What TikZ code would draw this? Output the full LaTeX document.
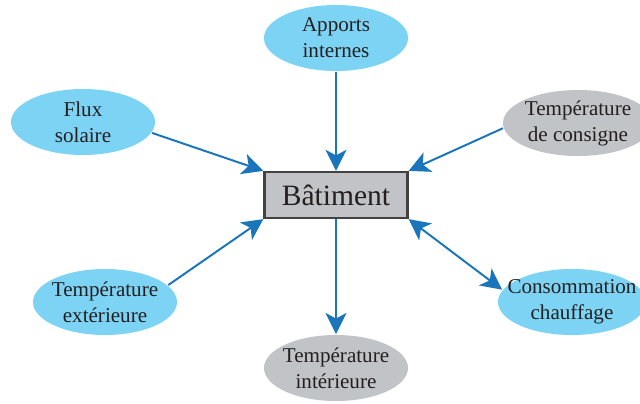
\documentclass[tikz,border=0pt]{standalone}
\usepackage{fontspec}
\setmainfont{Liberation Serif}
\usepackage{tikz}
\usetikzlibrary{arrows.meta,shapes.geometric}

\definecolor{cielbleu}{HTML}{7DD3F4}
\definecolor{grisclair}{HTML}{C2C3C7}
\definecolor{flechebleu}{HTML}{1B75BB}
\definecolor{texte}{HTML}{231F20}

\begin{document}
\begin{tikzpicture}[->,>={Stealth[length=15pt,width=15pt,inset=4pt]},x=0.025cm,y=-0.025cm,
                    line width=1.4pt,draw=flechebleu,text=texte]
  \tikzstyle{bulle}=[ellipse,draw=none,minimum width=3.6cm,minimum height=1.65cm,
                     inner xsep=-12pt,inner ysep=-2pt,align=center,
                     font=\fontsize{15}{18.5}\selectfont]
  \tikzstyle{entree}=[bulle,fill=cielbleu]
  \tikzstyle{sortie}=[bulle,fill=grisclair]

  \clip (0,0) rectangle (640,403);

  \node[draw=texte!85,fill=grisclair,line width=1.6pt,minimum width=3.575cm,
        minimum height=1.15cm,font=\fontsize{21}{24}\selectfont] (bat) at (336,195) {Bâtiment};

  \node[entree] (app)   at (336,38)  {Apports\\internes};
  \node[entree] (flux)  at (83,122)  {Flux\\solaire};
  \node[sortie,minimum width=3.75cm] (cons) at (578,123) {Température\\de consigne};
  \node[entree] (ext)   at (105,302) {Température\\extérieure};
  \node[sortie] (int)   at (336,368) {Température\\intérieure};
  \node[entree,minimum width=3.7cm] (conso) at (572,302) {Consommation\\chauffage};

  \path (app)       edge (bat)
        (flux.-9)   edge (bat.north west)
        (cons.184)  edge (bat.north east)
        (ext.15)    edge (bat.south west)
        (bat)       edge (int)
        (bat.south east) edge[<->] (conso.170);

\end{tikzpicture}
\end{document}
